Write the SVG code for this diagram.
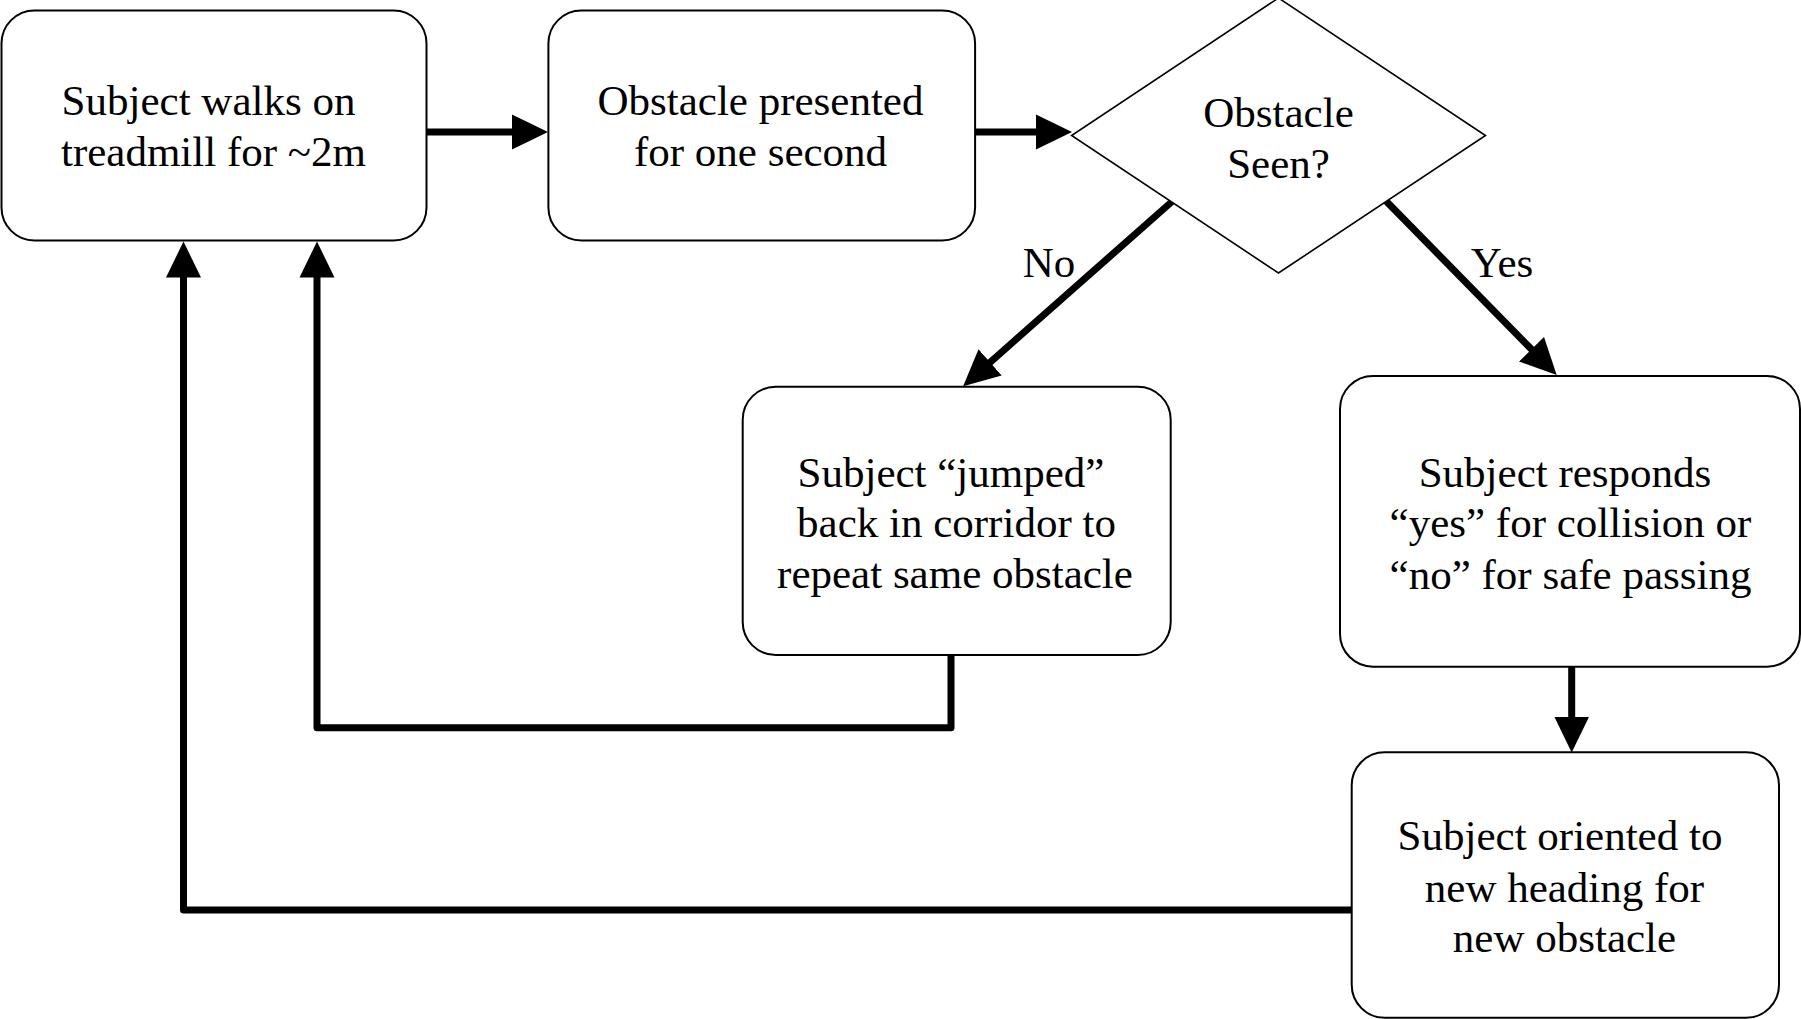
<svg xmlns="http://www.w3.org/2000/svg" width="1801" height="1019" viewBox="0 0 1801 1019">
<style>
.box{fill:#fff;stroke:#000;stroke-width:2}
.dia{fill:#fff;stroke:#000;stroke-width:1.6}
.t{font-family:"Liberation Serif","Times New Roman",serif;font-size:43px;fill:#000;text-anchor:middle}
.c{fill:none;stroke:#000;stroke-width:7;stroke-linecap:round;stroke-linejoin:round}
</style>
<defs>
<marker id="ah" markerUnits="userSpaceOnUse" viewBox="0 -20 40 40" refX="0" refY="0" markerWidth="40" markerHeight="40" orient="auto">
<path d="M0,-17.5 L36,0 L0,17.5 Z" fill="#000"/>
</marker>
</defs>
<rect width="1801" height="1019" fill="#fff"/>
<g id="connectors">
<path class="c" d="M425,132 L512,132" marker-end="url(#ah)"/>
<path class="c" d="M972,132 L1036,132" marker-end="url(#ah)"/>
<path class="c" d="M1171.5,202 L990.1,362.3" marker-end="url(#ah)"/>
<path class="c" d="M1387,202 L1531.5,349.3" marker-end="url(#ah)"/>
<path class="c" d="M1571.7,666 L1571.7,716.5" marker-end="url(#ah)"/>
<path class="c" d="M951,655 L951,727.7 L317,727.7 L317,277.5" marker-end="url(#ah)"/>
<path class="c" d="M1352,910 L183.5,910 L183.5,277.5" marker-end="url(#ah)"/>
<text class="t" x="1049" y="277">No</text>
<text class="t" x="1502" y="277">Yes</text>
</g>
<g id="n1">
<rect class="box" x="1.5" y="10.5" width="425" height="230" rx="33" ry="33"/>
<text class="t" x="208.5" y="115">Subject walks on</text>
<text class="t" x="213.5" y="166">treadmill for ~2m</text>
</g>
<g id="n2">
<rect class="box" x="548.4" y="10.5" width="426.7" height="230" rx="33" ry="33"/>
<text class="t" x="760.5" y="115">Obstacle presented</text>
<text class="t" x="760.5" y="166">for one second</text>
</g>
<g id="n3">
<polygon class="dia" points="1278.5,-2 1485.5,135.5 1278.5,273 1071.6,135.5"/>
<text class="t" x="1278.5" y="127">Obstacle</text>
<text class="t" x="1278.5" y="178">Seen?</text>
</g>
<g id="n4">
<rect class="box" x="742.7" y="386.7" width="428" height="268.3" rx="33" ry="33"/>
<text class="t" x="951" y="486.7">Subject “jumped”</text>
<text class="t" x="956.5" y="537">back in corridor to</text>
<text class="t" x="955" y="588.3">repeat same obstacle</text>
</g>
<g id="n5">
<rect class="box" x="1340" y="376" width="460" height="290.7" rx="33" ry="33"/>
<text class="t" x="1565" y="486.7">Subject responds</text>
<text class="t" x="1570.5" y="537.3">“yes” for collision or</text>
<text class="t" x="1570.5" y="589.3">“no” for safe passing</text>
</g>
<g id="n6">
<rect class="box" x="1351.7" y="752.3" width="427.3" height="265.5" rx="33" ry="33"/>
<text class="t" x="1560" y="850">Subject oriented to</text>
<text class="t" x="1564.5" y="902.3">new heading for</text>
<text class="t" x="1564.5" y="952.3">new obstacle</text>
</g>
</svg>
